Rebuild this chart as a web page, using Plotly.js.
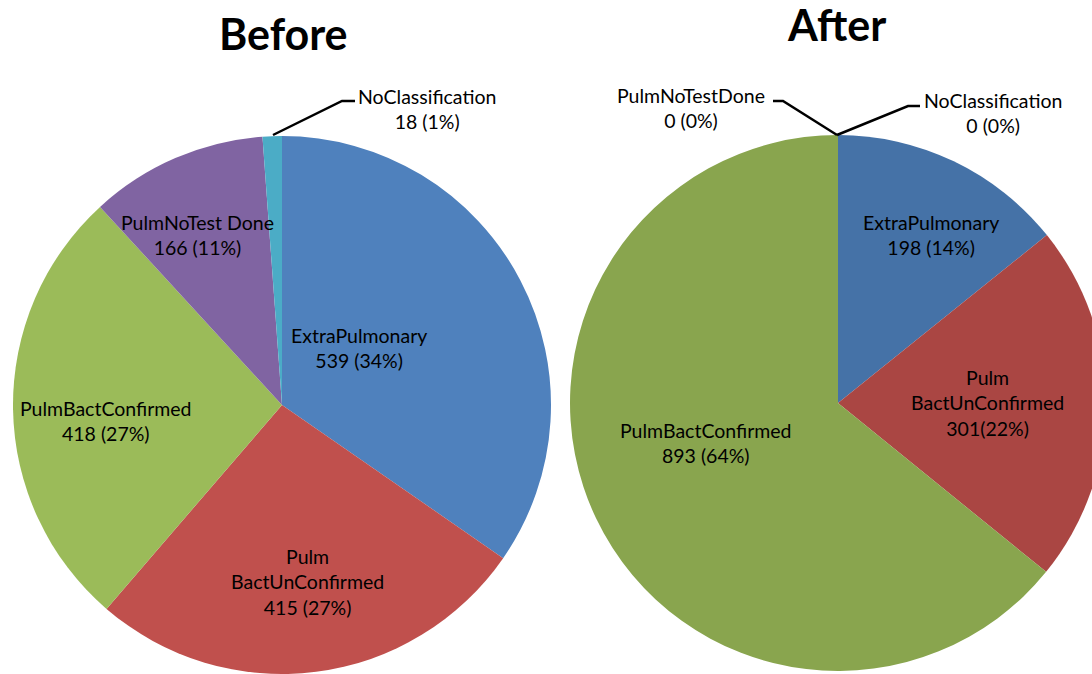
<!DOCTYPE html>
<html>
<head>
<meta charset="utf-8">
<script src="https://cdn.plot.ly/plotly-3.0.1.min.js"></script>
<style>
html, body { margin: 0; padding: 0; overflow: hidden; background: #fff; }
#chart { width: 1120px; height: 680px; }
</style>
</head>
<body>
<div id="chart"></div>
<script>
// ---- Data ----
var categories = ['ExtraPulmonary', 'PulmBactUnConfirmed', 'PulmBactConfirmed', 'PulmNoTestDone', 'NoClassification'];
var beforeValues = [539, 415, 418, 166, 18];
var beforePct = [34, 27, 27, 11, 1];
var beforeLabelNames = ['ExtraPulmonary', 'Pulm<br>BactUnConfirmed', 'PulmBactConfirmed', 'PulmNoTest Done', 'NoClassification'];
var afterValues = [198, 301, 893, 0, 0];
var afterPct = [14, 22, 64, 0, 0];
var afterLabelNames = ['ExtraPulmonary', 'Pulm<br>BactUnConfirmed', 'PulmBactConfirmed', 'PulmNoTestDone', 'NoClassification'];
var afterPctSep = [' ', '', ' ', ' ', ' '];
var titles = ['Before', 'After'];

// ---- Styling ----
var W = 1120, H = 680;
function px(x) { return x / W; }
function py(y) { return 1 - y / H; }
var beforeColors = ['#4F81BD', '#C0504D', '#9BBB59', '#8064A2', '#4BACC6'];
var afterColors = ['#4572A7', '#AA4643', '#89A54E', '#80699B', '#3D96AE'];
var FONT = 'Lato, "Open Sans", sans-serif';
var labelFont = { family: FONT, size: 19.5, color: '#000' };

// label anchor positions (pixel centres of each text block)
var beforePos = [[359, 348], [307, 582], [106, 421], [197, 235], [427, 109]];
var afterPos = [[931, 235], [987, 403], [706, 443], [691, 108], [993, 113]];

var traces = [
  {
    type: 'pie', values: beforeValues, labels: categories, sort: false,
    direction: 'clockwise', rotation: 0,
    marker: { colors: beforeColors, line: { width: 0 } },
    textinfo: 'none', hoverinfo: 'label+value+percent', showlegend: false,
    domain: { x: [px(13), px(551)], y: [py(674), py(136)] }
  },
  {
    type: 'pie', values: afterValues, labels: categories, sort: false,
    direction: 'clockwise', rotation: 0,
    marker: { colors: afterColors, line: { width: 0 } },
    textinfo: 'none', hoverinfo: 'label+value+percent', showlegend: false,
    domain: { x: [px(570), px(1106)], y: [py(671), py(135)] }
  }
];

var annotations = [];
categories.forEach(function (c, i) {
  annotations.push({
    xref: 'paper', yref: 'paper', x: px(beforePos[i][0]), y: py(beforePos[i][1]),
    xanchor: 'center', yanchor: 'middle', showarrow: false, align: 'center',
    text: beforeLabelNames[i] + '<br>' + beforeValues[i] + ' (' + beforePct[i] + '%)',
    font: labelFont
  });
  annotations.push({
    xref: 'paper', yref: 'paper', x: px(afterPos[i][0]), y: py(afterPos[i][1]),
    xanchor: 'center', yanchor: 'middle', showarrow: false, align: 'center',
    text: afterLabelNames[i] + '<br>' + afterValues[i] + afterPctSep[i] + '(' + afterPct[i] + '%)',
    font: labelFont
  });
});
annotations.push({
  xref: 'paper', yref: 'paper', x: px(283), y: py(33), xanchor: 'center', yanchor: 'middle',
  showarrow: false, text: '<b>' + titles[0] + '</b>', font: { family: FONT, size: 43, color: '#000' }
});
annotations.push({
  xref: 'paper', yref: 'paper', x: px(836), y: py(25), xanchor: 'center', yanchor: 'middle',
  showarrow: false, text: '<b>' + titles[1] + '</b>', font: { family: FONT, size: 43, color: '#000' }
});

function leader(pts) {
  var d = 'M' + pts.map(function (p) { return px(p[0]) + ',' + py(p[1]); }).join(' L');
  return { type: 'path', xref: 'paper', yref: 'paper', path: d, line: { color: '#000', width: 2.5 } };
}
var shapes = [
  leader([[273, 135], [342, 101], [355, 101]]),
  leader([[773, 101], [783, 101], [837, 135]]),
  leader([[837, 135], [908, 106], [920, 106]])
];

var layout = {
  width: W, height: H,
  margin: { l: 0, r: 0, t: 0, b: 0, pad: 0 },
  paper_bgcolor: '#fff',
  showlegend: false,
  annotations: annotations,
  shapes: shapes
};

Plotly.newPlot('chart', traces, layout, { displayModeBar: false, staticPlot: true });
</script>
</body>
</html>
